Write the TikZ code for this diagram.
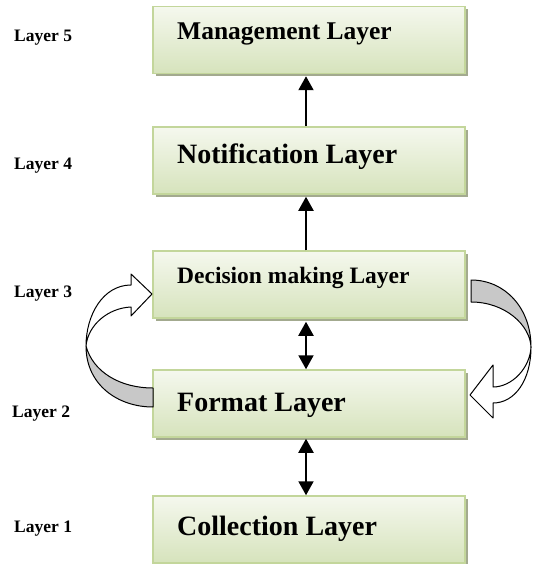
\documentclass[tikz,border=0pt]{standalone}
\usepackage{fontspec}
\setmainfont{Liberation Serif}
\usetikzlibrary{arrows.meta,shadows}
\definecolor{boxtop}{RGB}{245,248,238}
\definecolor{boxbot}{RGB}{214,227,188}
\definecolor{boxline}{RGB}{195,214,155}
\definecolor{shadowc}{RGB}{163,170,143}
\definecolor{arrowgray}{RGB}{200,200,200}
\tikzset{
  layerbox/.style={rectangle, minimum width=312pt, minimum height=67pt, inner sep=0pt,
    draw=boxline, line width=1.5pt, top color=boxtop, bottom color=boxbot,
    drop shadow={shadow xshift=3pt, shadow yshift=-3pt, fill=shadowc, opacity=1}},
  boxtext/.style={anchor=base west, inner sep=0pt, font=\bfseries},
  sidelabel/.style={anchor=base west, inner sep=0pt, font=\bfseries\fontsize{17.5}{20}\selectfont},
  arr/.style={line width=2pt, -{Triangle[width=15pt,length=14pt]}},
  darr/.style={line width=2pt, {Triangle[width=15pt,length=14pt]}-{Triangle[width=15pt,length=14pt]}},
  blockarrow/.style={draw=black, line width=1pt, line join=round}
}
\begin{document}
\begin{tikzpicture}[x=1pt,y=-1pt]
\useasboundingbox (0,0) rectangle (532,564);
% boxes
\node[layerbox] (B5) at (309,40) {};
\node[layerbox] (B4) at (309,160.5) {};
\node[layerbox] (B3) at (309,284.5) {};
\node[layerbox] (B2) at (309,403.5) {};
\node[layerbox] (B1) at (309,529.5) {};
% box texts
\node[boxtext, font=\bfseries\fontsize{25.5}{30}\selectfont] (T5) at (177,40) {Management Layer};
\node[boxtext, font=\bfseries\fontsize{28}{32}\selectfont] (T4) at (177,164) {Notification Layer};
\node[boxtext, font=\bfseries\fontsize{23.5}{28}\selectfont] (T3) at (177,283) {Decision making Layer};
\node[boxtext, font=\bfseries\fontsize{28}{32}\selectfont] (T2) at (177,411) {Format Layer};
\node[boxtext, font=\bfseries\fontsize{28}{32}\selectfont] (T1) at (177,535) {Collection Layer};
% side labels
\node[sidelabel] (L5) at (14,42) {Layer 5};
\node[sidelabel] (L4) at (14,169) {Layer 4};
\node[sidelabel] (L3) at (14,297) {Layer 3};
\node[sidelabel] (L2) at (12,417) {Layer 2};
\node[sidelabel] (L1) at (14,532) {Layer 1};
% straight arrows
\draw[arr] ([xshift=-3pt]B4.north) -- ([xshift=-3pt,yshift=-2pt]B5.south);
\draw[arr] ([xshift=-3pt]B3.north) -- ([xshift=-3pt,yshift=-2pt]B4.south);
\draw[darr] ([xshift=-3pt,yshift=-3pt]B3.south) -- ([xshift=-3pt]B2.north);
\draw[darr] ([xshift=-3pt,yshift=-1pt]B2.south) -- ([xshift=-3pt]B1.north);
% left curved block arrow (Format -> Decision)
\draw[blockarrow, fill=arrowgray] (86,346) .. controls (86,385) and (118,407) .. (153,407)
  -- (153,388) .. controls (120,388) and (93,372) .. (86,346) -- cycle;
\draw[blockarrow, fill=white] (131,285) -- (131,274) -- (152,294) -- (131,316) -- (131,307)
  .. controls (108,308) and (88,325) .. (86,346)
  .. controls (86,315) and (103,285) .. (131,285) -- cycle;
% right curved block arrow (Decision -> Format)
\draw[blockarrow, fill=arrowgray] (471,280) .. controls (505,280) and (531,308) .. (531,347)
  .. controls (530,325) and (505,302) .. (471,302) -- cycle;
\draw[blockarrow, fill=white] (531,347) .. controls (531,380) and (515,403) .. (493,403)
  -- (493,418) -- (470,395) -- (493,365) -- (493,387)
  .. controls (512,387) and (530,368) .. (531,347) -- cycle;
\end{tikzpicture}
\end{document}
